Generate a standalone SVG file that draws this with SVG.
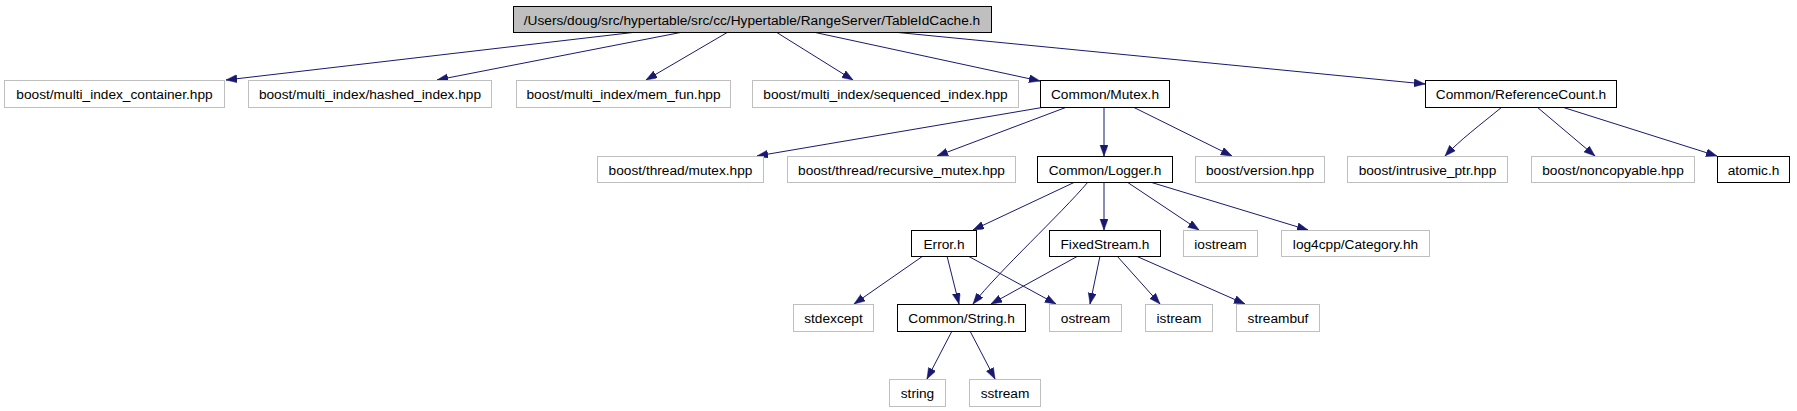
<svg xmlns="http://www.w3.org/2000/svg" width="1797" height="411" viewBox="0 0 1797 411">
<style>
.n rect{fill:#ffffff;stroke:#bfbfbf;stroke-width:1}
.n.d rect{stroke:#000000}
.n.r rect{fill:#bfbfbf;stroke:#000000}
.n text{font-family:"Liberation Sans",Arial,sans-serif;font-size:13.7px;fill:#000000;text-anchor:middle}
#edges path{fill:none;stroke:#191970;stroke-width:1;marker-end:url(#ah)}
</style>
<defs>
<marker id="ah" markerUnits="userSpaceOnUse" markerWidth="12" markerHeight="9" refX="11" refY="4" orient="auto">
<path d="M0,0 L11,4 L0,8 z" fill="#191970" stroke="#191970" stroke-width="0.5"/>
</marker>
</defs>
<rect x="0" y="0" width="1797" height="411" fill="#ffffff"/>
<g id="edges">
<path d="M637,32 L226,80"/>
<path d="M683,32 L437,80"/>
<path d="M728,32 L646,80"/>
<path d="M776,32 L853,80"/>
<path d="M813,32 L1040,81"/>
<path d="M893,32 L1425,84"/>
<path d="M1045,107 L757,156"/>
<path d="M1067,107 L937,156"/>
<path d="M1104,107 L1104,156"/>
<path d="M1133,107 L1232,156"/>
<path d="M1502,107 C1480,125 1460,140 1445,156"/>
<path d="M1537,107 L1595,156"/>
<path d="M1562,107 L1717,156"/>
<path d="M1075,182 L973,230"/>
<path d="M1088,182 C1060,215 1000,270 973,304"/>
<path d="M1104,182 L1104,230"/>
<path d="M1127,182 L1199,230"/>
<path d="M1150,182 L1308,230"/>
<path d="M923,256 L854,304"/>
<path d="M947,256 L959,304"/>
<path d="M968,256 L1056,304"/>
<path d="M1078,256 L991,304"/>
<path d="M1100,256 L1090,304"/>
<path d="M1117,256 L1160,304"/>
<path d="M1136,256 L1245,304"/>
<path d="M952,331 L927,379"/>
<path d="M970,331 L995,379"/>
</g>
<g id="root" class="n r"><rect x="513.5" y="6.5" width="478" height="26"/><text x="752" y="24.5">/Users/doug/src/hypertable/src/cc/Hypertable/RangeServer/TableIdCache.h</text></g>
<g id="n_multi_index_container" class="n"><rect x="4.5" y="80.5" width="220" height="27"/><text x="114.5" y="99">boost/multi_index_container.hpp</text></g>
<g id="n_hashed_index" class="n"><rect x="248.5" y="80.5" width="243" height="27"/><text x="370" y="99">boost/multi_index/hashed_index.hpp</text></g>
<g id="n_mem_fun" class="n"><rect x="516.5" y="80.5" width="214" height="27"/><text x="623.5" y="99">boost/multi_index/mem_fun.hpp</text></g>
<g id="n_sequenced_index" class="n"><rect x="752.5" y="80.5" width="266" height="27"/><text x="885.5" y="99">boost/multi_index/sequenced_index.hpp</text></g>
<g id="n_mutex_h" class="n d"><rect x="1040.5" y="80.5" width="129" height="27"/><text x="1105" y="99">Common/Mutex.h</text></g>
<g id="n_referencecount" class="n d"><rect x="1425.5" y="80.5" width="191" height="27"/><text x="1521" y="99">Common/ReferenceCount.h</text></g>
<g id="n_thread_mutex" class="n"><rect x="597.5" y="156.5" width="166" height="26"/><text x="680.5" y="174.5">boost/thread/mutex.hpp</text></g>
<g id="n_recursive_mutex" class="n"><rect x="787.5" y="156.5" width="228" height="26"/><text x="901.5" y="174.5">boost/thread/recursive_mutex.hpp</text></g>
<g id="n_logger" class="n d"><rect x="1037.5" y="156.5" width="135" height="26"/><text x="1105" y="174.5">Common/Logger.h</text></g>
<g id="n_version" class="n"><rect x="1195.5" y="156.5" width="129" height="26"/><text x="1260" y="174.5">boost/version.hpp</text></g>
<g id="n_intrusive_ptr" class="n"><rect x="1347.5" y="156.5" width="160" height="26"/><text x="1427.5" y="174.5">boost/intrusive_ptr.hpp</text></g>
<g id="n_noncopyable" class="n"><rect x="1531.5" y="156.5" width="163" height="26"/><text x="1613" y="174.5">boost/noncopyable.hpp</text></g>
<g id="n_atomic" class="n d"><rect x="1717.5" y="156.5" width="72" height="26"/><text x="1753.5" y="174.5">atomic.h</text></g>
<g id="n_error" class="n d"><rect x="911.5" y="230.5" width="65" height="26"/><text x="944" y="248.5">Error.h</text></g>
<g id="n_fixedstream" class="n d"><rect x="1049.5" y="230.5" width="111" height="26"/><text x="1105" y="248.5">FixedStream.h</text></g>
<g id="n_iostream" class="n"><rect x="1183.5" y="230.5" width="74" height="26"/><text x="1220.5" y="248.5">iostream</text></g>
<g id="n_log4cpp" class="n"><rect x="1281.5" y="230.5" width="148" height="26"/><text x="1355.5" y="248.5">log4cpp/Category.hh</text></g>
<g id="n_stdexcept" class="n"><rect x="793.5" y="304.5" width="80" height="27"/><text x="833.5" y="323">stdexcept</text></g>
<g id="n_string_h" class="n d"><rect x="897.5" y="304.5" width="128" height="27"/><text x="961.5" y="323">Common/String.h</text></g>
<g id="n_ostream" class="n"><rect x="1049.5" y="304.5" width="72" height="27"/><text x="1085.5" y="323">ostream</text></g>
<g id="n_istream" class="n"><rect x="1145.5" y="304.5" width="67" height="27"/><text x="1179" y="323">istream</text></g>
<g id="n_streambuf" class="n"><rect x="1236.5" y="304.5" width="83" height="27"/><text x="1278" y="323">streambuf</text></g>
<g id="n_string" class="n"><rect x="889.5" y="379.5" width="56" height="27"/><text x="917.5" y="398">string</text></g>
<g id="n_sstream" class="n"><rect x="969.5" y="379.5" width="71" height="27"/><text x="1005" y="398">sstream</text></g>
</svg>
